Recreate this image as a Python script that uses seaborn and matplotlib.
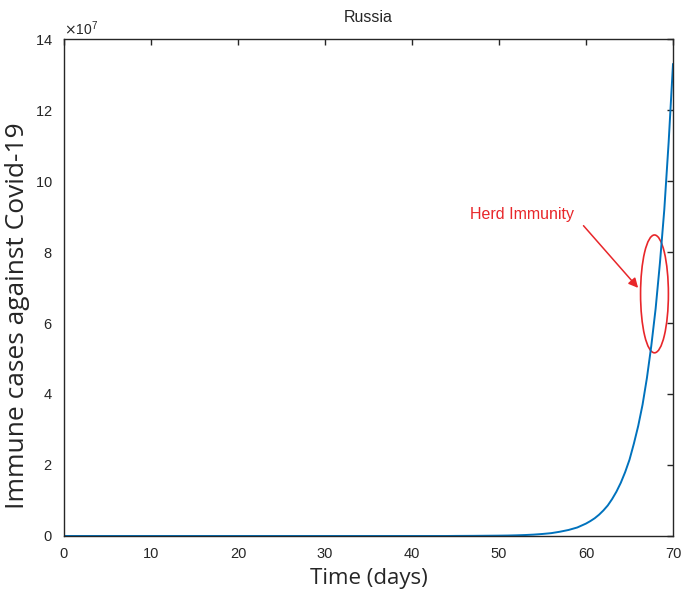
import numpy as np
import pandas as pd
import matplotlib
matplotlib.use('Agg')
import matplotlib.pyplot as plt
from matplotlib.patches import Ellipse
from matplotlib.ticker import ScalarFormatter
import seaborn as sns

# Immune cases, in units of 1e7
days = list(range(0, 60)) + [
    60, 60.5, 61, 61.5, 62, 62.5, 63, 63.5, 64, 64.5,
    65, 65.5, 66, 66.5, 67, 67.5, 68, 68.5, 69, 69.5, 70,
]
immune_1e7 = [0.0] * 45 + [
    0.002, 0.003, 0.004, 0.006, 0.008,   # 45-49
    0.010, 0.013, 0.019, 0.027, 0.039,   # 50-54
    0.057, 0.080, 0.12, 0.17, 0.24,      # 55-59
] + [
    0.35, 0.42, 0.50, 0.60, 0.72, 0.86, 1.04, 1.25, 1.50, 1.80,
    2.15, 2.60, 3.10, 3.70, 4.45, 5.35, 6.40, 7.70, 9.20, 11.1, 13.3,
]
title = 'Russia'
xlabel = 'Time (days)'
ylabel = 'Immune cases against Covid-19'
note = 'Herd Immunity'

df = pd.DataFrame({'day': days, 'immune': np.array(immune_1e7) * 1e7})

sns.set_style('white')
plt.rcParams['font.family'] = ['Liberation Sans', 'DejaVu Sans']

fig = plt.figure(figsize=(6.85, 6.04), dpi=100)
ax = fig.add_axes([0.0934, 0.1126, 0.8891, 0.8228])

sns.lineplot(data=df, x='day', y='immune', ax=ax, color='#0072BD', linewidth=1.4)

ax.set_xlim(0, 70)
ax.set_ylim(0, 14e7)
ax.set_xticks(range(0, 71, 10))
ax.set_yticks(np.arange(0, 15, 2) * 1e7)

fmt = ScalarFormatter(useMathText=True, useOffset=False)
fmt.set_powerlimits((7, 7))
ax.yaxis.set_major_formatter(fmt)
ax.yaxis.get_offset_text().set_fontsize(10)
ax.yaxis.get_offset_text().set_color('#888888')

ax.tick_params(direction='in', top=True, right=True, length=4, width=1,
               colors='#262626', labelsize=10.5, labelcolor='#262626', pad=8)
for s in ax.spines.values():
    s.set_color('#262626')
    s.set_linewidth(1.0)

ax.set_title(title, fontsize=11.5, color='#262626', pad=12)
ax.set_xlabel(xlabel, fontsize=16, labelpad=5, family=['Open Sans', 'DejaVu Sans'])
ax.set_ylabel(ylabel, fontsize=19, family=['Open Sans', 'DejaVu Sans'])
ax.yaxis.set_label_coords(-0.056, 0.443)

# annotation
ax.add_patch(Ellipse((67.87, 6.82e7), 3.2, 3.32e7, fill=False,
                     edgecolor='#E8262A', linewidth=1.2))
ax.annotate('', xy=(66.2, 6.93e7), xytext=(59.5, 8.8e7),
            arrowprops=dict(arrowstyle='-|>', color='#E8262A', lw=1.1,
                            mutation_scale=14))
ax.text(52.6, 9.05e7, note, color='#E8262A', fontsize=11.5, ha='center', va='center')

fig.savefig('out.png', dpi=100)
